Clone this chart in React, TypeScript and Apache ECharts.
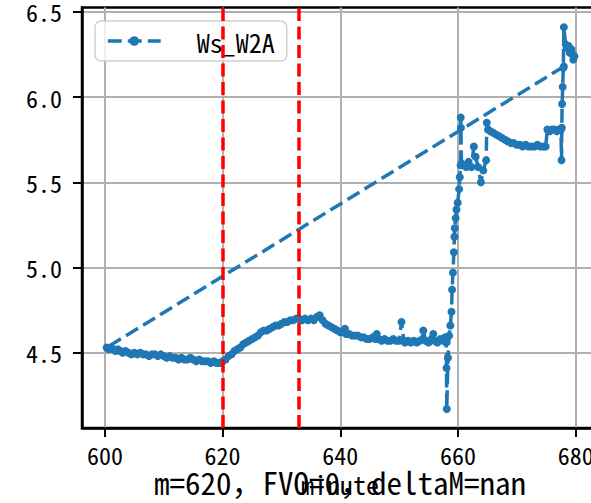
import React, { useEffect, useRef } from "react";
import * as echarts from "echarts";

// ---- data ----
const seriesName = "Ws_W2A";
const minuteX: number[] = [
  678.0,
  600.3, 600.6, 601.0, 601.4, 601.8, 602.2, 602.6, 603.0, 603.5, 604.0, 604.5, 605.0, 605.5, 606.0, 606.5,
  607.0, 607.5, 608.0, 608.5, 609.0, 609.5, 610.0, 610.5, 611.0, 611.5, 612.0, 612.5, 613.0, 613.5, 614.0,
  614.5, 615.0, 615.5, 616.0, 616.5, 617.0, 617.5, 618.0, 618.5, 619.0, 619.5, 620.0,
  620.5, 621.0, 621.5, 622.0, 622.5, 623.0, 623.5, 624.0, 624.5, 625.0, 625.5, 626.0, 626.5, 627.0, 627.5,
  628.0, 628.5, 629.0, 629.5, 630.0, 630.5, 631.0, 631.5, 632.0, 632.5, 633.0, 633.5, 634.0, 634.5, 635.0,
  635.5, 636.0, 636.5, 637.0, 637.5, 638.0, 638.5, 639.0, 639.5, 640.0, 640.5, 640.8, 641.0, 641.5, 642.0,
  642.5, 643.0, 643.5, 644.0, 644.5, 645.0, 645.5, 646.0, 646.2, 646.5, 647.0, 647.5, 648.0, 648.5, 649.0,
  649.5, 650.0, 650.4, 650.8, 651.0, 651.5, 652.0, 652.5, 653.0, 653.5, 654.0, 654.1, 654.5, 655.0, 655.5,
  655.8, 656.0, 656.5, 657.0, 657.5, 657.8, 658.0, 658.05, 658.1, 658.3, 658.5, 658.7, 658.9, 659.0, 659.15,
  659.3, 659.4, 659.45, 659.6, 659.75, 659.95, 660.2, 660.3, 660.45, 660.47, 660.5, 660.6, 660.9, 661.4,
  661.8, 662.3, 662.7, 663.0, 663.4, 663.9, 664.3, 664.8, 664.9, 665.1, 665.5, 666.0, 666.5, 667.0, 667.5,
  668.0, 668.5, 669.0, 669.5, 670.0, 670.5, 671.0, 671.5, 672.0, 672.5, 673.0, 673.5, 674.0, 674.5, 674.9,
  675.2, 675.6, 676.0, 676.4, 676.8, 677.2, 677.5, 677.6, 677.65, 677.7, 677.8, 677.9, 678.0, 678.3, 678.5,
  678.8, 679.0, 679.3, 679.5, 679.8, 679.6,
];
const wsW2A: number[] = [
  6.18,
  4.53, 4.52, 4.53, 4.52, 4.51, 4.52, 4.51, 4.50, 4.51, 4.50, 4.49, 4.50, 4.49, 4.50, 4.49,
  4.49, 4.48, 4.49, 4.49, 4.48, 4.49, 4.48, 4.47, 4.48, 4.47, 4.47, 4.46, 4.47, 4.46, 4.46,
  4.47, 4.46, 4.45, 4.46, 4.45, 4.45, 4.45, 4.44, 4.45, 4.44, 4.44, 4.45,
  4.46, 4.48, 4.49, 4.51, 4.52, 4.53, 4.55, 4.56, 4.57, 4.58, 4.59, 4.60, 4.62, 4.63, 4.63,
  4.64, 4.65, 4.66, 4.66, 4.67, 4.68, 4.68, 4.69, 4.69, 4.70, 4.70, 4.69, 4.70, 4.69, 4.70,
  4.69, 4.71, 4.72, 4.69, 4.67, 4.66, 4.65, 4.64, 4.63, 4.62, 4.62, 4.64, 4.61, 4.61, 4.60,
  4.60, 4.60, 4.59, 4.59, 4.58, 4.58, 4.59, 4.58, 4.61, 4.58, 4.57, 4.58, 4.57, 4.57, 4.58,
  4.57, 4.57, 4.68, 4.57, 4.56, 4.57, 4.56, 4.57, 4.56, 4.57, 4.58, 4.63, 4.57, 4.56, 4.58,
  4.61, 4.57, 4.56, 4.58, 4.57, 4.59, 4.56, 4.41, 4.17, 4.47, 4.60, 4.66, 4.74, 4.87, 4.97,
  5.09, 5.18, 5.23, 5.29, 5.34, 5.38, 5.46, 5.53, 5.60, 5.88, 5.82, 5.61, 5.60, 5.59,
  5.62, 5.59, 5.71, 5.65, 5.59, 5.50, 5.57, 5.63, 5.85, 5.81, 5.80, 5.79, 5.78, 5.77, 5.76,
  5.75, 5.74, 5.73, 5.73, 5.72, 5.72, 5.71, 5.72, 5.71, 5.71, 5.71, 5.72, 5.71, 5.71, 5.71,
  5.81, 5.80, 5.81, 5.81, 5.80, 5.81, 5.81, 5.63, 5.82, 5.96, 6.06, 6.17, 6.41, 6.31, 6.29,
  6.30, 6.26, 6.28, 6.25, 6.24, 6.22,
];
const markerMinutes: number[] = [620, 633];
const xTicks: number[] = [600, 620, 640, 660, 680];
const yTicks: number[] = [4.5, 5.0, 5.5, 6.0, 6.5];
const titleText = "m=620，FVO=0，deltaM=nan";
const xName = "minute";

const FONT = "'Noto Sans Mono CJK SC', 'Noto Sans CJK SC', 'DejaVu Sans Mono', monospace";
const BLUE = "#1f77b4";

export default function App() {
  const ref = useRef<HTMLDivElement>(null);
  useEffect(() => {
    if (!ref.current) return;
    const chart = echarts.init(ref.current, null, { renderer: "svg" });
    const points = minuteX.map((x, i) => [x, wsW2A[i]]);
    chart.setOption({
      animation: false,
      backgroundColor: "#fff",
      textStyle: { fontFamily: FONT },
      title: [
        {
          text: titleText,
          left: 340,
          textAlign: "center",
          top: 466,
          padding: 0,
          textStyle: { fontFamily: FONT, fontSize: 31, fontWeight: "normal", color: "#000" },
        },
      ],
      grid: {
        left: 82,
        top: 7.5,
        width: 516,
        height: 420.5,
        show: true,
        outerBoundsMode: "none",
        containLabel: false,
        borderColor: "#000",
        borderWidth: 2.5,
        backgroundColor: "transparent",
      },
      legend: {
        show: true,
        left: 95,
        top: 21,
        orient: "horizontal",
        itemWidth: 53,
        itemHeight: 12,
        padding: [7, 12, 7, 11],
        borderColor: "rgba(204,204,204,0.9)",
        borderWidth: 1.5,
        borderRadius: 6,
        backgroundColor: "rgba(255,255,255,0.8)",
        lineStyle: { type: [14, 6], width: 3.5 },
        textStyle: { fontFamily: FONT, fontSize: 26, color: "#000", padding: [0, 0, 0, 31] },
        data: [seriesName],
      },
      xAxis: {
        type: "value",
        min: 596.1,
        max: 683.8,
        name: xName,
        nameLocation: "middle",
        nameGap: 42,
        nameTextStyle: { fontFamily: FONT, fontSize: 26, color: "#000" },
        axisLine: { show: true, onZero: false, lineStyle: { color: "#000", width: 2.5 } },
        axisTick: { show: true, inside: false, length: 9, customValues: xTicks, lineStyle: { color: "#000", width: 2 } },
        axisLabel: {
          customValues: xTicks,
          margin: 14,
          fontFamily: FONT,
          fontSize: 24,
          color: "#000",
          formatter: (v: number) => String(Math.round(v)),
        },
        splitLine: { show: true, lineStyle: { color: "#b0b0b0", width: 2 } },
      },
      yAxis: {
        type: "value",
        min: 4.058,
        max: 6.526,
        axisLine: { show: true, onZero: false, lineStyle: { color: "#000", width: 2.5 } },
        axisTick: { show: true, inside: false, length: 9, customValues: yTicks, lineStyle: { color: "#000", width: 2 } },
        axisLabel: {
          customValues: yTicks,
          margin: 20,
          fontFamily: FONT,
          fontSize: 24,
          color: "#000",
          formatter: (v: number) => v.toFixed(1),
        },
        splitLine: { show: true, lineStyle: { color: "#b0b0b0", width: 2 } },
      },
      series: [
        {
          name: seriesName,
          type: "line",
          data: points,
          symbol: "circle",
          symbolSize: 8,
          showSymbol: true,
          showAllSymbol: true,
          clip: true,
          itemStyle: { color: BLUE },
          lineStyle: { color: BLUE, width: 3.5, type: [14, 6] },
          markLine: {
            silent: true,
            symbol: "none",
            label: { show: false },
            lineStyle: { color: "#ff0000", width: 3.5, type: [13, 5.5] },
            data: markerMinutes.map((m) => ({ xAxis: m })),
          },
        },
      ],
    });
    return () => chart.dispose();
  }, []);
  return (
    <div
      ref={ref}
      style={{ position: "fixed", left: 0, top: 0, width: 591, height: 503, background: "#fff" }}
    />
  );
}
